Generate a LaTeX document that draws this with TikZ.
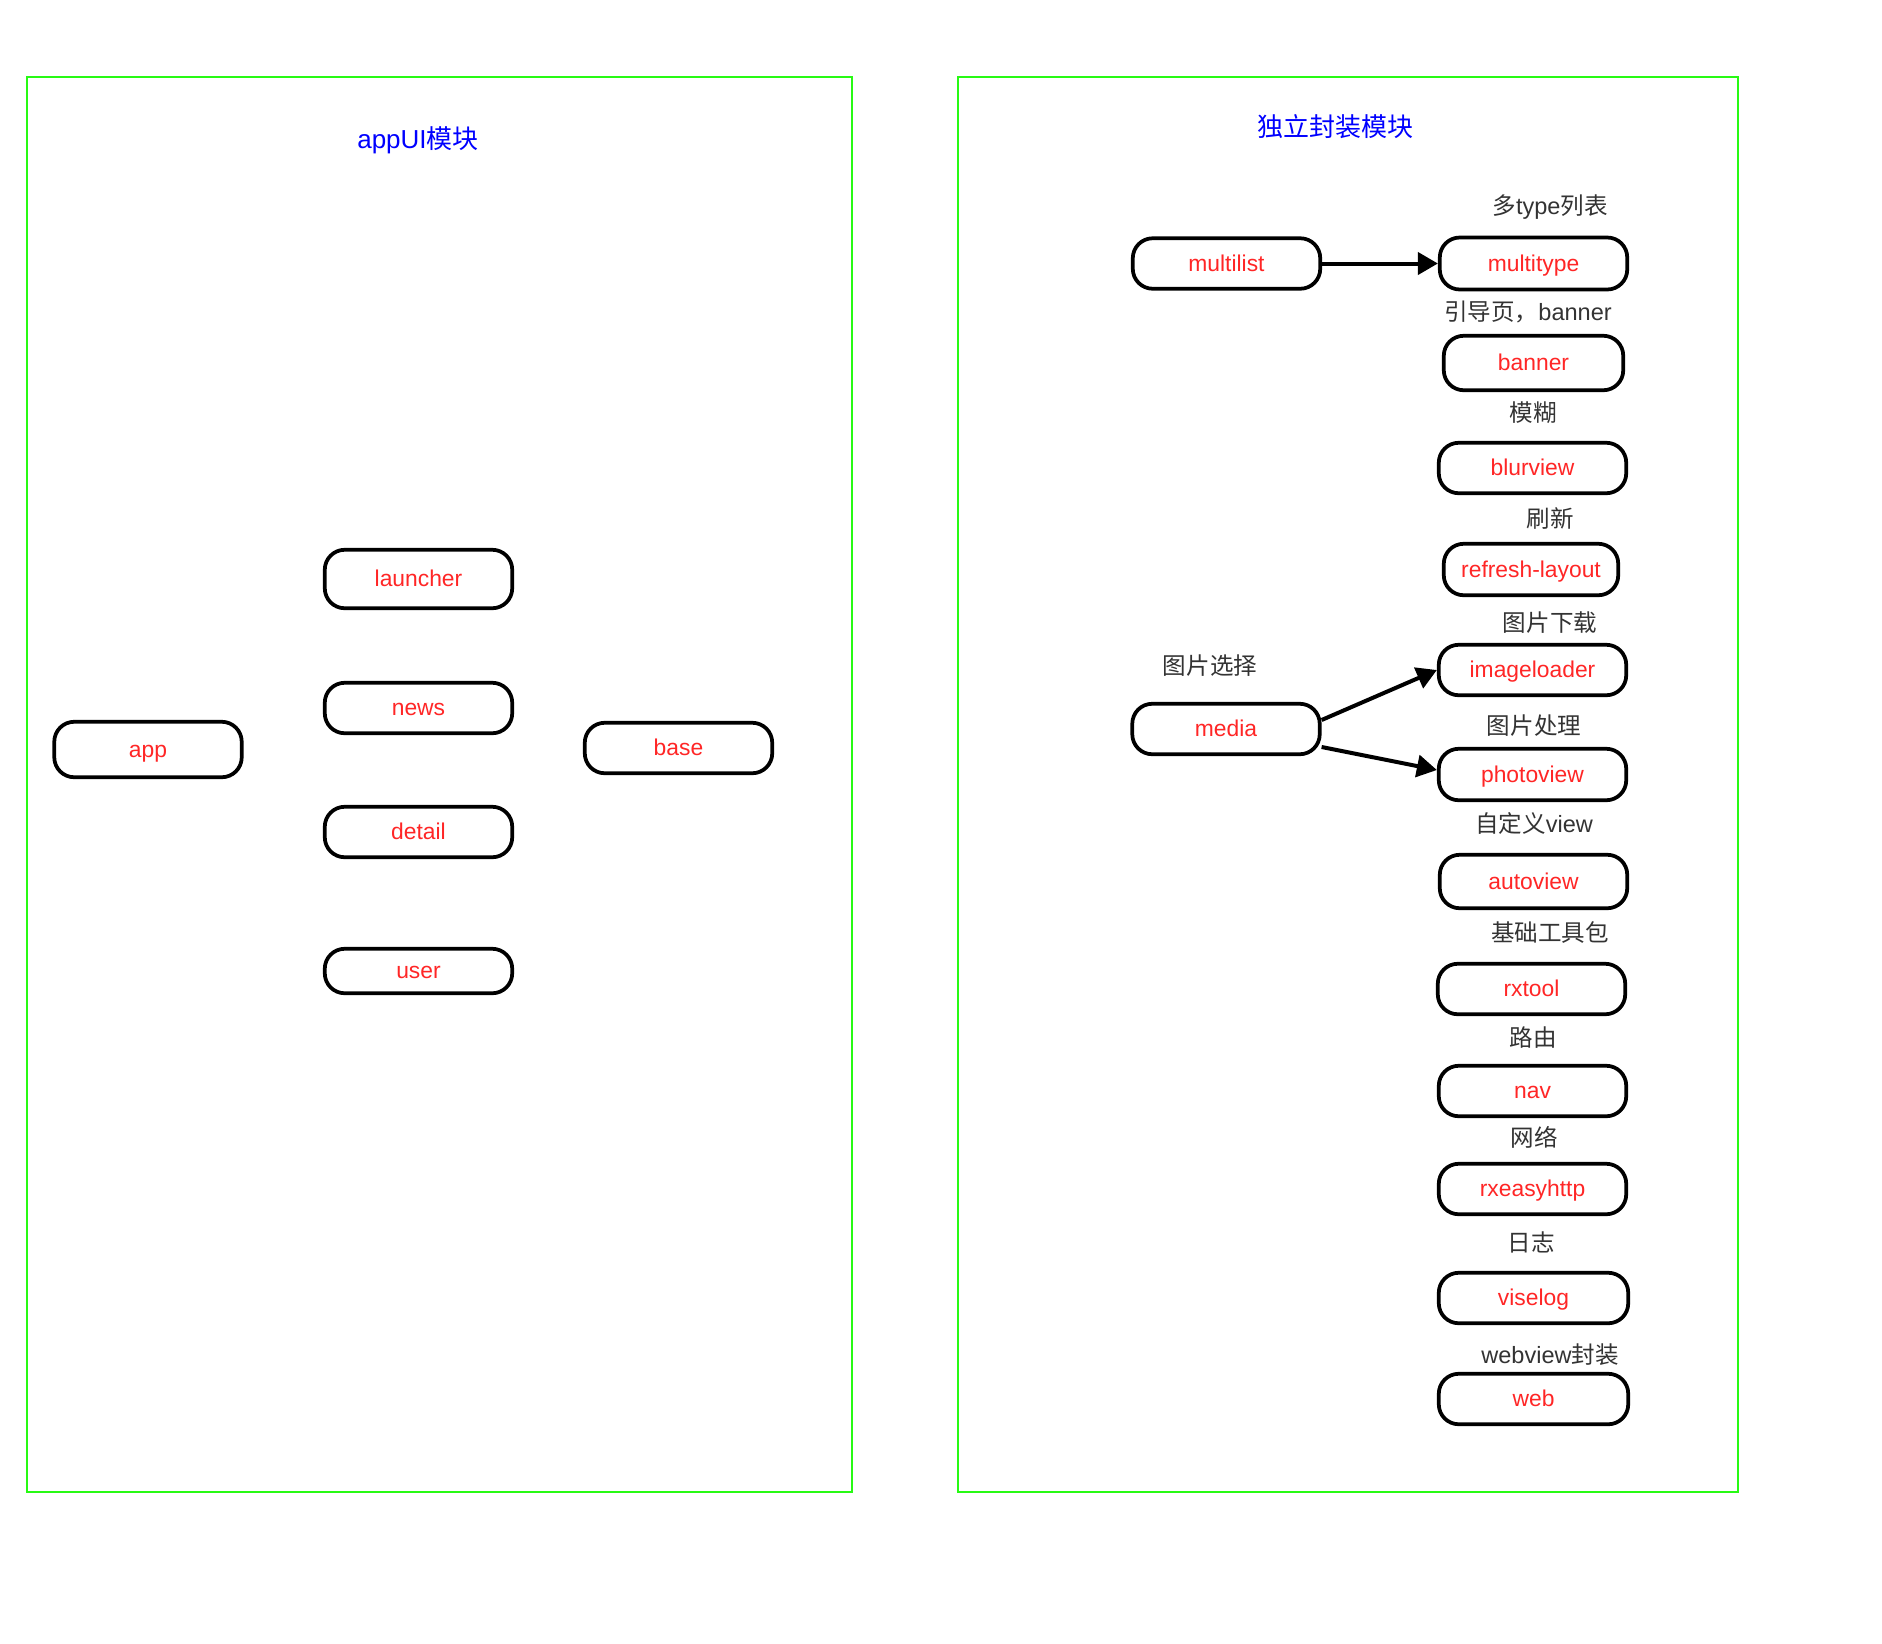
\documentclass[tikz,border=0pt]{standalone}
\usepackage{fontspec}
\setmainfont{Liberation Sans}
\newfontfamily\cjk{Noto Sans CJK SC}
\usepackage{xcolor}
\usetikzlibrary{arrows.meta}

\definecolor{modgreen}{RGB}{40,250,20}
\definecolor{modblue}{RGB}{0,0,255}
\definecolor{libred}{RGB}{255,38,38}
\definecolor{notegray}{RGB}{51,51,51}

\tikzset{
  module/.style={draw=modgreen, line width=0.04cm},
  modtitle/.style={text=modblue, inner sep=0pt, font=\fontsize{14.8}{16}\selectfont},
  lib/.style={draw, line width=0.075cm, rounded corners=0.4cm, fill=white,
    text=libred, minimum width=3.75cm, minimum height=1.01cm, inner sep=0pt,
    text height=11.5pt, text depth=2.5pt, font=\fontsize{13}{15}\selectfont},
  note/.style={text=notegray, inner sep=0pt, font=\fontsize{13.4}{15}\selectfont},
  link/.style={line width=0.08cm, -{Triangle[length=0.4cm,width=0.44cm]}}
}

\begin{document}
\begin{tikzpicture}[x=0.02cm,y=-0.02cm]
\useasboundingbox (0,0) rectangle (1882,1643);

% the two module frames
\draw[module] (26.7,77) rectangle (852,1492);
\draw[module] (958,77) rectangle (1738,1492);
\node[modtitle] (uititle) at (418,140) {appUI{\cjk 模块}};
\node[modtitle] (libtitle) at (1335,127) {\cjk 独立封装模块};

% appUI module
\node[lib, minimum height=1.11cm] (app) at (148,749.5) {app};
\node[lib, minimum height=1.17cm] (launcher) at (418.5,579) {launcher};
\node[lib] (news) at (418.5,708) {news};
\node[lib] (detail) at (418.5,832) {detail};
\node[lib, minimum height=0.89cm] (user) at (418.5,971) {user};
\node[lib] (base) at (678.5,748) {base};

% standalone libraries
\node[lib] (multilist) at (1226.5,263.5) {multilist};
\node[lib] (media) at (1226,729) {media};
\node[note] (medianote) at (1210,666) {\cjk 图片选择};

\node[note] (typenote) at (1550,207) {{\cjk 多}type{\cjk 列表}};
\node[lib, minimum height=1.04cm] (multitype) at (1533.5,263.5) {multitype};
\node[note] (bannernote) at (1528,312) {{\cjk 引导页，}banner};
\node[lib, minimum width=3.59cm, minimum height=1.09cm] (banner) at (1533.5,363) {banner};
\node[note] (blurnote) at (1533,413) {\cjk 模糊};
\node[lib] (blurview) at (1532.5,468) {blurview};
\node[note] (refreshnote) at (1550,518) {\cjk 刷新};
\node[lib, minimum width=3.49cm, minimum height=1.03cm] (refresh) at (1531,569.5) {refresh-layout};
\node[note] (loadnote) at (1550,623) {\cjk 图片下载};
\node[lib] (imageloader) at (1532.5,670) {imageloader};
\node[note] (photonote) at (1534,726) {\cjk 图片处理};
\node[lib, minimum height=1.03cm] (photoview) at (1532.5,774.5) {photoview};
\node[note] (autonote) at (1534,823) {{\cjk 自定义}view};
\node[lib, minimum height=1.07cm] (autoview) at (1533.5,881.5) {autoview};
\node[note] (toolnote) at (1550,932) {\cjk 基础工具包};
\node[lib] (rxtool) at (1531.5,989) {rxtool};
\node[note] (navnote) at (1533,1038) {\cjk 路由};
\node[lib] (nav) at (1532.5,1091) {nav};
\node[note] (httpnote) at (1534,1137) {\cjk 网络};
\node[lib] (rxeasyhttp) at (1532.5,1189) {rxeasyhttp};
\node[note] (lognote) at (1531,1242) {\cjk 日志};
\node[lib, minimum width=3.79cm] (viselog) at (1533.5,1298) {viselog};
\node[note] (webnote) at (1550,1355) {webview{\cjk 封装}};
\node[lib, minimum width=3.79cm] (web) at (1533.5,1399) {web};

% dependencies
\draw[link] (multilist.east) -- (multitype.west);
\draw[link] ([yshift=0.18cm]media.east) -- (imageloader.west);
\draw[link] ([yshift=-0.36cm]media.east) -- ([yshift=0.09cm]photoview.west);
\end{tikzpicture}
\end{document}
